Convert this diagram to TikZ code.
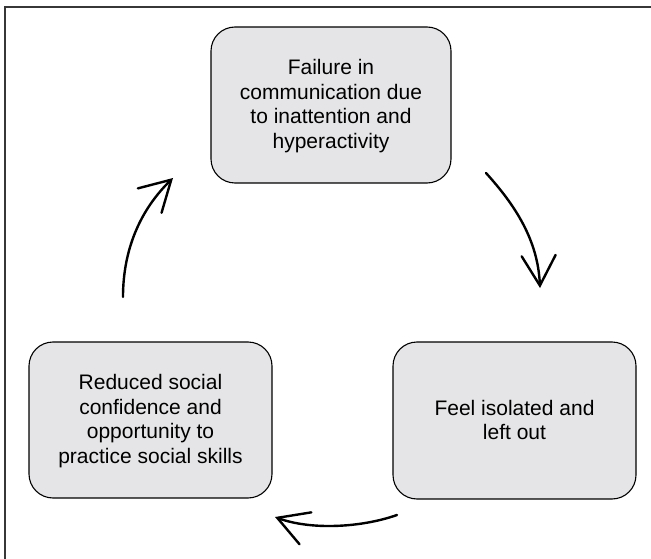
\documentclass[tikz,border=0pt]{standalone}
\usepackage{fontspec}
\setmainfont{Liberation Sans}
\usetikzlibrary{arrows.meta}
\definecolor{boxfill}{RGB}{229,229,231}
\definecolor{framegray}{RGB}{55,55,55}
\tikzset{
  stepbox/.style={draw=black, line width=1.1pt, fill=boxfill, rounded corners=24pt},
  steptext/.style={align=center, font=\fontsize{21pt}{24.5pt}\selectfont, inner sep=0pt},
  cyclearrow/.style={line width=2.4pt, line cap=round, -{Straight Barb[length=30pt,width=34pt,line cap=round]}}
}
\begin{document}
\begin{tikzpicture}[x=1pt,y=-1pt]
  \useasboundingbox (0,0) rectangle (651,559);
  % open frame: top and left edges only
  \draw[framegray, line width=2pt] (5,559) -- (5,7) -- (651,7);

  % the three stages of the cycle
  \draw[stepbox] (211,27) rectangle (451,183);
  \node[steptext] (top) at (331,106) {Failure in\\communication due\\to inattention and\\hyperactivity};

  \draw[stepbox] (393,342) rectangle (636,499);
  \node[steptext] (right) at (514.5,420) {Feel isolated and\\left out};

  \draw[stepbox] (29,342) rectangle (272,498);
  \node[steptext] (left) at (150.5,421) {Reduced social\\confidence and\\opportunity to\\practice social skills};

  % arrow end points
  \coordinate (a1s) at (486,173);
  \coordinate (a1e) at (540,288);
  \coordinate (a2s) at (397,515);
  \coordinate (a2e) at (275,517);
  \coordinate (a3s) at (123,297);
  \coordinate (a3e) at (173,178);

  % curved arrows linking the stages
  \draw[cyclearrow] (a1s) .. controls (515,205) and (538,240) .. (a1e);
  \draw[cyclearrow] (a2s) .. controls (360,528) and (310,530) .. (a2e);
  \draw[cyclearrow] (a3s) .. controls (123,250) and (140,210) .. (a3e);
\end{tikzpicture}
\end{document}
